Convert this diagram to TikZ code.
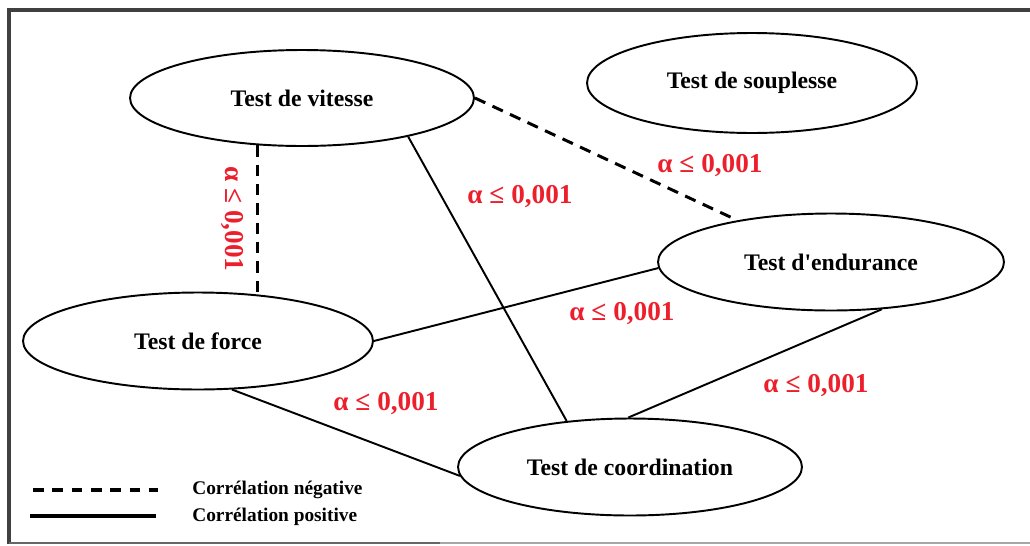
\documentclass[tikz,border=0pt]{standalone}
\usepackage{fontspec}
\setmainfont{Liberation Serif}
\usetikzlibrary{shapes.geometric}
\definecolor{alphared}{RGB}{236,32,44}
\begin{document}
\begin{tikzpicture}[x=0.02cm, y=-0.02cm,
    testnode/.style={draw, ellipse, line width=1.1pt, inner sep=0pt, font=\fontsize{13.5}{15}\selectfont\bfseries},
    neglink/.style={line width=1.7pt, dash pattern=on 6.5pt off 4.5pt},
    poslink/.style={line width=1.1pt},
    alphalabel/.style={text=alphared, font=\fontsize{15.5}{17}\selectfont\bfseries, inner sep=0pt},
    legendtext/.style={font=\fontsize{11}{13}\selectfont\bfseries, anchor=west, inner sep=0pt}]
        \useasboundingbox (0,0) rectangle (1030,545);
        \draw[line width=1.8pt, black!75] (9,544) -- (9,10) -- (1030,10);
        \draw[line width=1pt, black!35] (9,543) -- (1030,543);
        \draw[line width=1pt, black!60] (9,543) -- (440,543);
        \node[testnode, minimum width=6.88cm, minimum height=1.92cm] (vit) at (302,98) {Test de vitesse};
        \node[testnode, minimum width=6.6cm, minimum height=2cm] (soup) at (752,83) {Test de souplesse};
        \node[testnode, minimum width=6.92cm, minimum height=1.94cm] (endu) at (831,262) {Test d\textquotesingle endurance};
        \node[testnode, minimum width=7cm, minimum height=1.94cm] (frc) at (198,341) {Test de force};
        \node[testnode, minimum width=6.88cm, minimum height=1.94cm] (coord) at (630,467) {Test de coordination};
        \draw[neglink] (vit.227) -- (vit.227 |- frc.36);
        \draw[neglink] (vit.east) -- (endu.156);
        \draw[poslink] (vit.-20) -- (coord.144);
        \draw[poslink] (frc.east) -- (endu.182);
        \draw[poslink] (frc.-55) -- (coord.183);
        \draw[poslink] (endu.-43) -- (coord.92);
        \node[alphalabel, rotate=-90] (a1) at (232,219) {α ≤ 0,001};
        \node[alphalabel] (a2) at (710,166) {α ≤ 0,001};
        \node[alphalabel] (a3) at (520,197) {α ≤ 0,001};
        \node[alphalabel] (a4) at (622,314) {α ≤ 0,001};
        \node[alphalabel] (a5) at (386,404) {α ≤ 0,001};
        \node[alphalabel] (a6) at (816,386) {α ≤ 0,001};
        \coordinate (n1) at (33,490);
        \coordinate (n2) at (158,490);
        \coordinate (p1) at (30,516);
        \coordinate (p2) at (156,516);
        \draw[line width=2.2pt, dash pattern=on 6pt off 5pt] (n1) -- (n2);
        \draw[line width=1.8pt] (p1) -- (p2);
        \node[legendtext] (lneg) at (192,490) {Corrélation négative};
        \node[legendtext] (lpos) at (192,517) {Corrélation positive};
\end{tikzpicture}
\end{document}
